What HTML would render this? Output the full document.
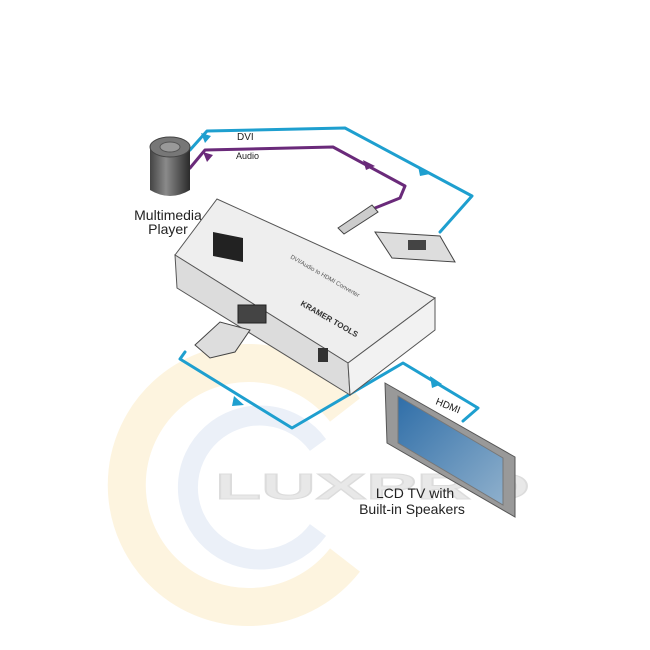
<!DOCTYPE html>
<html><head><meta charset="utf-8"><style>
html,body{margin:0;padding:0;background:#fff;}
svg{display:block}
text{font-family:"Liberation Sans",sans-serif;}
</style></head><body>
<svg width="650" height="650" viewBox="0 0 650 650" xmlns="http://www.w3.org/2000/svg">
<defs>
<linearGradient id="cyl" x1="0" x2="1"><stop offset="0" stop-color="#444"/><stop offset="0.4" stop-color="#8a8a8a"/><stop offset="1" stop-color="#2a2a2a"/></linearGradient>
<linearGradient id="scr" x1="0" y1="0" x2="1" y2="1"><stop offset="0" stop-color="#2f6ea8"/><stop offset="1" stop-color="#8fb0cc"/></linearGradient>
</defs>
<!-- watermark -->
<path d="M 345 410 A 122 122 0 1 0 345 560" fill="none" stroke="#fdf4df" stroke-width="38"/>
<path d="M 318 445 A 72 72 0 1 0 318 530" fill="none" stroke="#ebf0f8" stroke-width="20"/>
<text x="215" y="499" font-size="36" font-weight="bold" fill="#e8e8e8" stroke="#dcdcdc" stroke-width="1" textLength="315" lengthAdjust="spacingAndGlyphs">LUXPRO</text>

<!-- cables -->
<g fill="none" stroke-linejoin="round" stroke-linecap="round">
<path d="M190 150 L207 131 L345 128 L472 196 L440 232" stroke="#1e9fcf" stroke-width="3"/>
<path d="M190 168 L205 150 L333 147 L405 186 L400 198 L375 208" stroke="#6a2a7a" stroke-width="3"/>
<path d="M185 352 L180 359 L292 428 L403 363 L478 408 L463 421" stroke="#1e9fcf" stroke-width="3"/>
</g>
<g fill="#1e9fcf"><polygon points="211,136 201,133 205,143"/><polygon points="430,174 418,166 420,176"/><polygon points="244,405 234,396 232,406"/><polygon points="442,384 430,376 432,388"/></g>
<polygon points="213,155 203,152 207,162" fill="#6a2a7a"/><polygon points="375,166 363,160 366,170" fill="#6a2a7a"/>
<text x="237" y="140" font-size="10" fill="#222">DVI</text>
<text x="236" y="159" font-size="9" fill="#222">Audio</text>

<!-- player -->
<path d="M150 147 L150 190 Q170 202 190 190 L190 147 Z" fill="url(#cyl)"/>
<ellipse cx="170" cy="147" rx="20" ry="10" fill="#777" stroke="#444"/>
<ellipse cx="170" cy="147" rx="10" ry="5" fill="#999" stroke="#555"/>
<text x="168" y="220" font-size="14" text-anchor="middle" fill="#222">Multimedia</text>
<text x="168" y="234" font-size="14" text-anchor="middle" fill="#222">Player</text>

<!-- device -->
<polygon points="175,255 217,199 435,298 348,363" fill="#eeeeee" stroke="#555"/>
<polygon points="175,255 348,363 350,395 177,288" fill="#dcdcdc" stroke="#555"/>
<polygon points="348,363 435,298 435,330 350,395" fill="#f2f2f2" stroke="#555"/>
<polygon points="213,232 243,238 243,262 213,256" fill="#222"/>
<rect x="238" y="305" width="28" height="18" fill="#444" stroke="#222"/>
<rect x="318" y="348" width="10" height="14" fill="#333"/>
<text x="290" y="258" font-size="6" fill="#555" transform="rotate(30 290 258)">DVI/Audio to HDMI Converter</text>
<text x="300" y="305" font-size="8" font-weight="bold" fill="#333" transform="rotate(30 300 305)">KRAMER  TOOLS</text>
<!-- hdmi plug -->
<polygon points="195,345 220,322 250,330 235,352 210,358" fill="#ddd" stroke="#444"/>
<!-- dvi connector -->
<polygon points="375,232 440,236 455,262 392,258" fill="#ddd" stroke="#444"/>
<rect x="408" y="240" width="18" height="10" fill="#444"/>
<polygon points="338,228 372,205 378,212 344,234" fill="#ccc" stroke="#444"/>

<!-- TV -->
<polygon points="385,383 515,457 515,517 387,443" fill="#999" stroke="#555"/>
<polygon points="398,396 503,458 503,505 398,443" fill="url(#scr)" stroke="#777"/>
<text x="435" y="404" font-size="10" fill="#222" transform="rotate(22 435 404)">HDMI</text>
<text x="415" y="498" font-size="14" text-anchor="middle" fill="#222">LCD TV with</text>
<text x="412" y="514" font-size="14" text-anchor="middle" fill="#222">Built-in Speakers</text>
</svg>
</body></html>
